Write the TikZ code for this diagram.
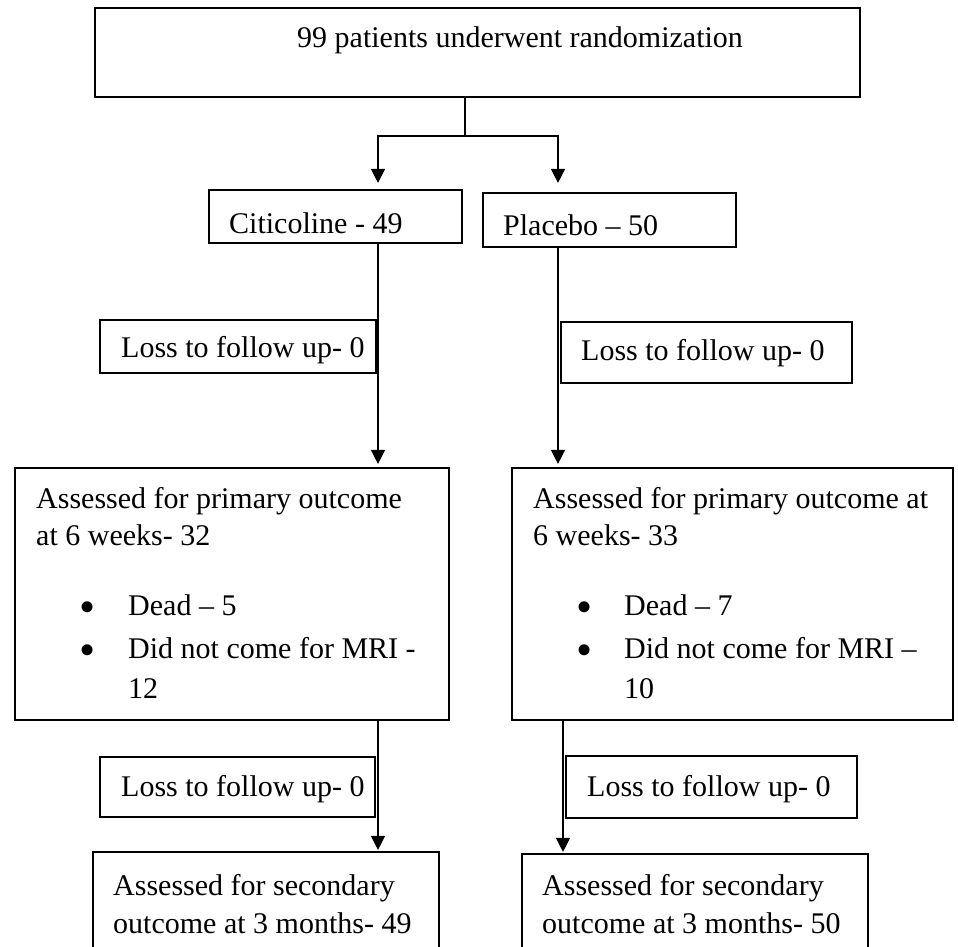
\documentclass[tikz,border=0pt]{standalone}
\usepackage{fontspec}
\setmainfont{Liberation Serif}
\usetikzlibrary{arrows.meta,calc}
\begin{document}
\begin{tikzpicture}[x=1pt,y=1pt,
  box/.style={draw, line width=2.2pt, inner sep=0pt, rectangle},
  txt/.style={anchor=base west, inner sep=0pt, font=\fontsize{30}{36}\selectfont},
  bul/.style={anchor=center, inner sep=0pt, font=\fontsize{46}{46}\selectfont},
  conn/.style={line width=1.4pt},
  arr/.style={conn, -{Triangle[length=14pt,width=14pt]}}]
\useasboundingbox (0,0) rectangle (958,-946);
\clip (0,0) rectangle (958,-946);
\fill[white] (0,0) rectangle (958,-946);

% boxes
\node[box, minimum width=765pt, minimum height=89pt] (top) at (477.5,-52.5) {};
\node[box, minimum width=253pt, minimum height=53pt] (cit) at (335.5,-216.5) {};
\node[box, minimum width=253pt, minimum height=54pt] (pla) at (609.5,-220) {};
\node[box, minimum width=276pt, minimum height=53pt] (lossA) at (238,-346.5) {};
\node[box, minimum width=291pt, minimum height=61pt] (lossB) at (706.5,-352.5) {};
\node[box, minimum width=434pt, minimum height=252pt] (primA) at (232,-594) {};
\node[box, minimum width=441pt, minimum height=252pt] (primB) at (732.5,-594) {};
\node[box, minimum width=275pt, minimum height=60pt] (lossC) at (237.5,-787) {};
\node[box, minimum width=291pt, minimum height=62pt] (lossD) at (711.5,-787) {};
\node[box, minimum width=346pt, minimum height=128pt] (secA) at (266,-916) {};
\node[box, minimum width=346pt, minimum height=126pt] (secB) at (695,-917) {};

% texts
\node[txt] (t0) at (297,-47) {99 patients underwent randomization};
\node[txt] (t1) at (229,-233) {Citicoline - 49};
\node[txt] (t2) at (503,-235) {Placebo – 50};
\node[txt] (t3) at (121,-357) {Loss to follow up- 0};
\node[txt] (t4) at (581,-360) {Loss to follow up- 0};

\node[txt] (a1) at (36,-508) {Assessed for primary outcome};
\node[txt] (a2) at (36,-545) {at 6 weeks- 32};
\node[bul] (a3b) at (88,-612) {\textbullet};
\node[txt] (a3) at (128,-615) {Dead – 5};
\node[bul] (a4b) at (88,-655) {\textbullet};
\node[txt] (a4) at (128,-658) {Did not come for MRI -};
\node[txt] (a5) at (128,-698) {12};

\node[txt] (b1) at (533,-508) {Assessed for primary outcome at};
\node[txt] (b2) at (533,-545) {6 weeks- 33};
\node[bul] (b3b) at (585,-612) {\textbullet};
\node[txt] (b3) at (624,-615) {Dead – 7};
\node[bul] (b4b) at (585,-655) {\textbullet};
\node[txt] (b4) at (624,-658) {Did not come for MRI –};
\node[txt] (b5) at (624,-698) {10};

\node[txt] (t5) at (121,-796) {Loss to follow up- 0};
\node[txt] (t6) at (587,-796) {Loss to follow up- 0};

\node[txt] (c1) at (113,-895) {Assessed for secondary};
\node[txt] (c2) at (113,-933) {outcome at 3 months- 49};
\node[txt] (d1) at (542,-895) {Assessed for secondary};
\node[txt] (d2) at (542,-933) {outcome at 3 months- 50};

% connectors
\coordinate (j) at (465,-136);
\coordinate (xa) at (378,0);
\coordinate (xb) at (558,0);
\coordinate (xc) at (563,0);
\draw[conn] (top.south -| j) -- (j);
\draw[arr] (j) -| ($(cit.north -| xa)+(0,6)$);
\draw[arr] (j) -| ($(pla.north -| xb)+(0,9)$);
\draw[arr] (cit.south -| xa) -- ($(primA.north -| xa)+(0,3)$);
\draw[arr] (pla.south -| xb) -- ($(primB.north -| xb)+(0,3)$);
\draw[arr] (primA.south -| xa) -- ($(secA.north -| xa)+(0,1)$);
\draw[arr] (primB.south -| xc) -- ($(secB.north -| xc)+(0,1)$);
\end{tikzpicture}
\end{document}
